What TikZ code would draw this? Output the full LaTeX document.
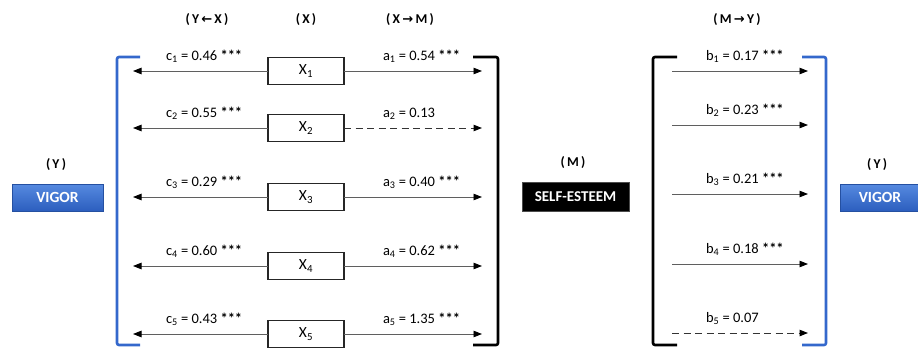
\documentclass[tikz,border=0pt]{standalone}
\usepackage{fontspec}
\setmainfont{Carlito}
\newfontfamily\symfont{DejaVu Sans}
\usetikzlibrary{arrows.meta}
\definecolor{vigortop}{RGB}{86,138,224}
\definecolor{vigorbot}{RGB}{44,94,190}
\definecolor{bracketblue}{RGB}{52,104,204}
\definecolor{linegray}{RGB}{95,95,95}
\newcommand{\sig}{\textbf{***}}

\begin{document}
\begin{tikzpicture}[x=1pt,y=-1pt,
  every node/.style={inner sep=0pt, outer sep=0pt},
  coef/.style={font=\fontsize{14.5}{17}\selectfont, anchor=base west},
  head/.style={font=\bfseries\fontsize{13.5}{15}\selectfont},
  xbox/.style={draw=black!85, line width=1.1pt, fill=white,
    minimum width=76pt, minimum height=27pt, font=\fontsize{15.5}{17}\selectfont},
  conn/.style={draw=linegray, line width=0.9pt,
    -{Triangle[length=8.5pt,width=6.5pt,color=black]}},
  dashconn/.style={conn, draw=black!80, line width=1pt, dash pattern=on 7pt off 4.5pt},
  brack/.style={line width=2.6pt, rounded corners=2pt},
  vigorbox/.style={top color=vigortop, bottom color=vigorbot, draw=vigorbot!85!black,
    line width=0.4pt, text=white, minimum height=27pt,
    font=\bfseries\fontsize{15.5}{17}\selectfont},
  mbox/.style={fill=black, draw=black!70, text=white, minimum width=107pt,
    minimum height=29pt, font=\bfseries\fontsize{15}{17}\selectfont}
]
\useasboundingbox (0,0) rectangle (918,349);

% column headers
\node[head] (hyx) at (207,20) {(\,Y\,{\symfont\bfseries\fontsize{13}{14}\selectfont ←}\,X\,)};
\node[head] (hx)  at (306,20) {(\,X\,)};
\node[head] (hxm) at (410,20) {(\,X\,{\symfont\bfseries\fontsize{13}{14}\selectfont →}\,M\,)};
\node[head] (hmy) at (737,20) {(\,M\,{\symfont\bfseries\fontsize{13}{14}\selectfont →}\,Y\,)};

% outcome, mediator, outcome
\node[head] (hyl) at (56,165) {(\,Y\,)};
\node[vigorbox, minimum width=91pt] (vl) at (57.5,197.5) {VIGOR};
\node[head] (hm) at (573,163) {(\,M\,)};
\node[mbox] (se) at (575.5,196.5) {SELF-ESTEEM};
\node[head] (hyr) at (877,165) {(\,Y\,)};
\node[vigorbox, minimum width=80pt] (vr) at (880,197.5) {VIGOR};

% brackets
\draw[brack, bracketblue] (140,57) -- (117,57) -- (117,345) -- (140,345);
\draw[brack, black] (473,57) -- (498,57) -- (498,345) -- (473,345);
\draw[brack, black] (677,57) -- (653,57) -- (653,345) -- (677,345);
\draw[brack, bracketblue] (802,57) -- (826,57) -- (826,345) -- (802,345);

% predictors with their c and a paths
\foreach \i/\y/\cc/\aa/\st in {1/71/0.46 \sig/0.54 \sig/conn,
                               2/128/0.55 \sig/0.13/dashconn,
                               3/197/0.29 \sig/0.40 \sig/conn,
                               4/266/0.60 \sig/0.62 \sig/conn,
                               5/334/0.43 \sig/1.35 \sig/conn}{
  \node[xbox] (x\i) at (306,\y) {X\textsubscript{\i}};
  \coordinate (cl\i) at (133,\y);
  \coordinate (ar\i) at (482,\y);
  \draw[conn] (x\i.west) -- (cl\i);
  \draw[\st] (x\i.east) -- (ar\i);
  \node[coef] (cn\i) at (166,\y-11) {c\textsubscript{\i} = \cc};
  \node[coef] (an\i) at (383,\y-11) {a\textsubscript{\i} = \aa};
}

% b paths
\foreach \i/\y/\bb/\st in {1/71/0.17 \sig/conn,
                           2/125/0.23 \sig/conn,
                           3/194/0.21 \sig/conn,
                           4/264/0.18 \sig/conn,
                           5/333/0.07/dashconn}{
  \coordinate (bs\i) at (672,\y);
  \coordinate (be\i) at (808,\y);
  \draw[\st] (bs\i) -- (be\i);
  \node[coef] (bn\i) at (706,\y-11) {b\textsubscript{\i} = \bb};
}
\end{tikzpicture}
\end{document}
